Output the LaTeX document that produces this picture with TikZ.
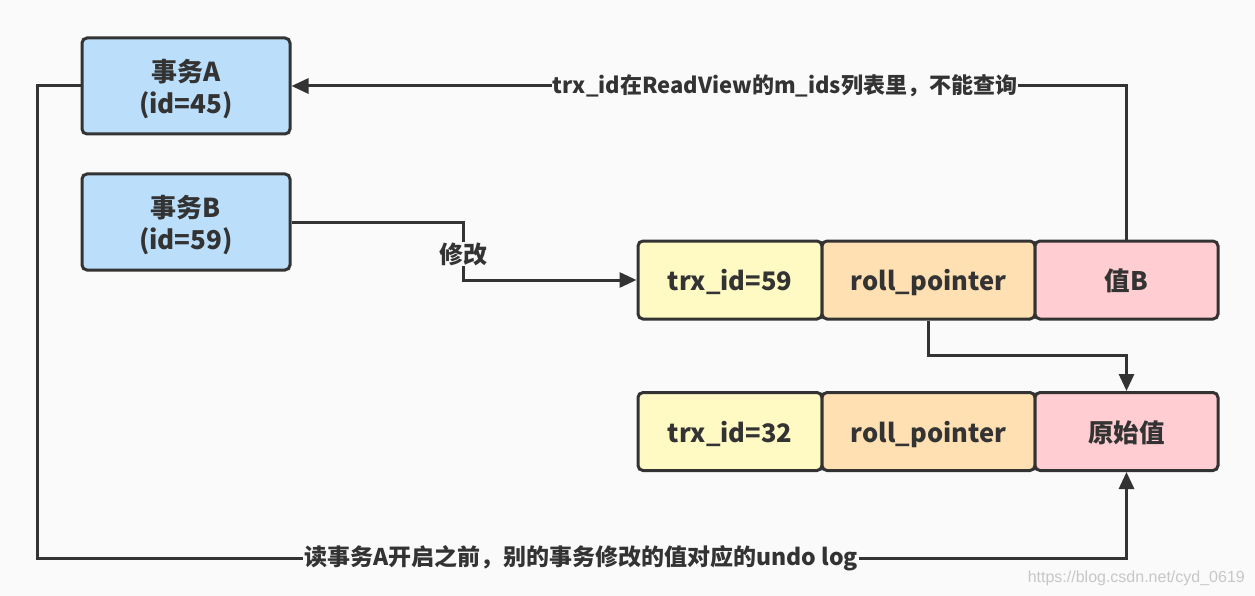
\documentclass[tikz,border=0pt]{standalone}
\usepackage{fontspec}
\setmainfont{Noto Sans CJK SC}
\newfontfamily\wmfont{Liberation Sans}
\usetikzlibrary{arrows.meta}
\definecolor{bg}{HTML}{FAFAFA}
\definecolor{ln}{HTML}{333333}
\definecolor{cblue}{HTML}{BBDEFB}
\definecolor{cyel}{HTML}{FFF9C4}
\definecolor{corg}{HTML}{FFE0B2}
\definecolor{cpink}{HTML}{FFCDD2}
\tikzset{
  box/.style={draw=ln, line width=3pt, rounded corners=5pt, inner sep=0pt, align=center, text=ln},
  txbox/.style={box, fill=cblue, minimum width=208pt, minimum height=96pt,
    font=\fontsize{26}{32}\selectfont\bfseries},
  cell/.style={box, minimum height=78pt, font=\fontsize{25.5}{30}\selectfont\bfseries,
    text depth=-4pt},
  conn/.style={draw=ln, line width=3pt, -{Triangle[length=17pt,width=15pt]}},
  lbl/.style={fill=bg, text=ln, inner sep=1pt, font=\fontsize{23}{26}\selectfont\bfseries},
}
\begin{document}
\begin{tikzpicture}[x=1pt,y=-1pt]
\fill[bg] (0,0) rectangle (1255,596);
\useasboundingbox (0,0) rectangle (1255,596);
\node[txbox] (A) at (186,86) {};
\node[txbox] (B) at (186,222) {};
\node[txbox, draw=none, fill=none] (At) at (186,89) {事务A\\(id=45)};
\node[txbox, draw=none, fill=none] (Bt) at (186,225) {事务B\\(id=59)};
\node[cell, fill=cyel, minimum width=184pt] (t1) at (730,280) {trx\_id=59};
\node[cell, fill=corg, minimum width=213pt] (r1) at (928.5,280) {roll\_pointer};
\node[cell, fill=cpink, minimum width=183pt] (v1) at (1126.5,280) {值B};
\node[cell, fill=cyel, minimum width=184pt] (t2) at (730,431.5) {trx\_id=32};
\node[cell, fill=corg, minimum width=213pt] (r2) at (928.5,431.5) {roll\_pointer};
\node[cell, fill=cpink, minimum width=183pt] (v2) at (1126.5,431.5) {原始值};
\coordinate (b1) at (463,222);
\coordinate (b2) at (463,280);
\coordinate (v1top) at (1126.5,86);
\coordinate (rp) at (928.5,355);
\coordinate (a1) at (37,86);
\coordinate (a2) at (37,558);
\coordinate (a3) at (1126.5,558);
\draw[conn] (B.east) -- (b1) -- (b2) -- (t1.west);
\node[lbl, font=\fontsize{24}{26}\selectfont\bfseries] (l1) at (463,254) {修改};
\draw[conn] (v1.north) -- (v1top) -- (A.east);
\node[lbl, font=\fontsize{22}{26}\selectfont\bfseries] (l2) at (785,86) {trx\_id在ReadView的m\_ids列表里，不能查询};
\draw[conn] (r1.south) -- (rp) -| (v2.north);
\draw[conn] (A.west) -- (a1) -- (a2) -- (a3) -- (v2.south);
\node[lbl] (l3) at (581,558) {读事务A开启之前，别的事务修改的值对应的undo log};
\node[text=black!22, font=\wmfont\fontsize{16}{18}\selectfont, anchor=east, inner sep=0pt] (wm) at (1245,578) {https://blog.csdn.net/cyd\_0619};
\end{tikzpicture}
\end{document}
